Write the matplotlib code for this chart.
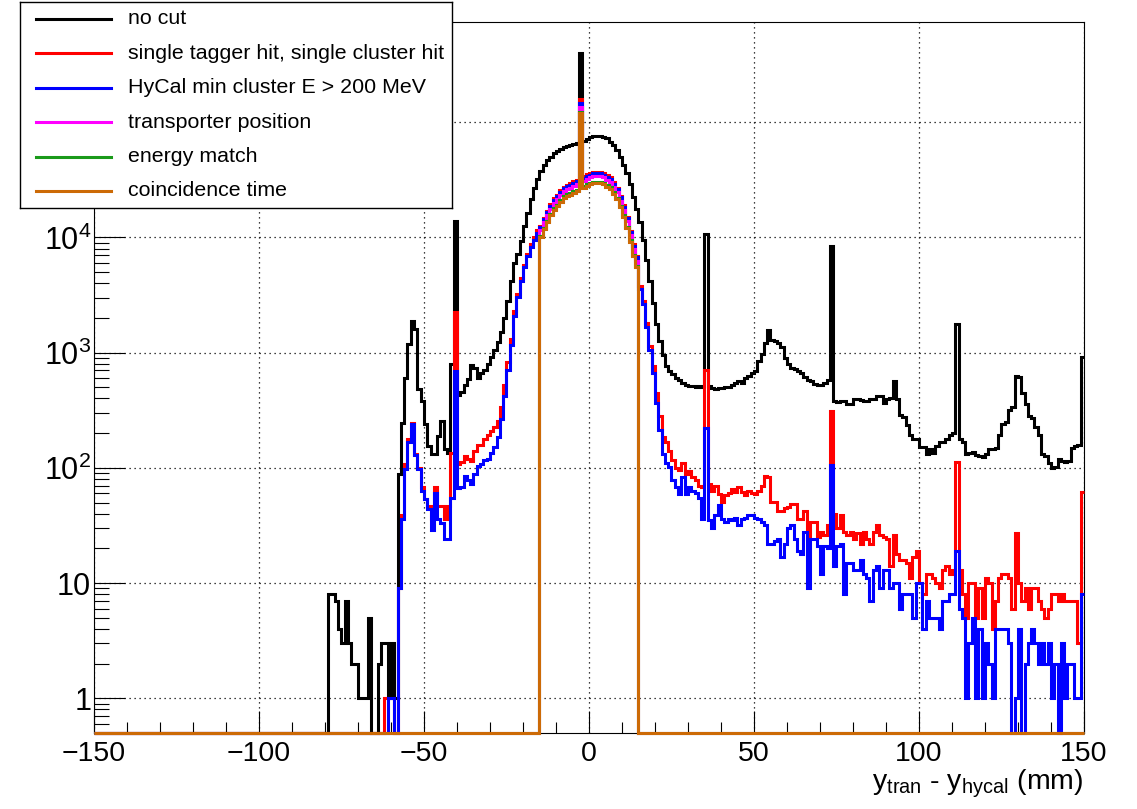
import numpy as np
import matplotlib
matplotlib.use('Agg')
import matplotlib.pyplot as plt
from matplotlib.ticker import MultipleLocator, FixedLocator, LogLocator, NullFormatter

plt.rcParams['font.family'] = ['Liberation Sans', 'DejaVu Sans']
plt.rcParams['mathtext.fontset'] = 'custom'
plt.rcParams['mathtext.rm'] = 'Liberation Sans'
plt.rcParams['mathtext.it'] = 'Liberation Sans'

# 1 mm bins from -150 to 150 mm
edges = np.arange(-150, 151, 1)

# bin contents, each list starts at the given lower bin edge (mm)
nocut_start = -79
nocut = [8, 8, 7, 4, 3, 7, 3, 2, 2, 1, 1, 1, 5, 0, 0, 2, 3, 3, 1, 3, 1,
         89, 246, 600, 1180, 1880, 1600, 480, 384, 240, 155,
         132, 132, 190, 257, 146, 135, 800, 13800,
         427, 457, 525, 590, 776, 741, 603, 661, 708, 794,
         912, 1047, 1230, 1510, 2000, 2820, 4170, 6030, 7240, 9330,
         12600, 16200, 21400, 26900, 32400,
         38000, 42700, 46800, 50100, 53700, 56200, 58900, 60300, 61700, 63100,
         64600, 66100, 398000, 69200, 70800, 74100, 75900, 75900, 75900, 74100,
         72400, 67600, 63100, 57500, 50100, 42700, 36300, 28800, 22400, 17800,
         13500, 9550, 6310, 4170, 2690, 1780, 1260, 955, 759, 692,
         646, 603, 575, 550, 525, 513, 513, 501, 513, 501,
         10700,
         513, 490, 479, 490, 490, 501, 501, 525, 550, 562,
         550, 603, 631, 661, 692, 851, 977, 1200, 1585, 1290,
         1260, 1200, 1120, 900, 794, 741, 724, 692, 661, 617,
         575, 562, 537, 525, 525, 550, 575,
         8500,
         380, 372, 380, 380, 355, 355, 398, 398, 389, 380,
         380, 398, 398, 417, 417, 363, 398, 407, 562, 398,
         288, 275, 234, 191, 178, 178, 151, 151, 132, 145,
         135, 155, 166, 166, 178, 191, 200, 1780, 178, 166,
         132, 135, 138, 129, 126, 123, 132, 145, 145, 148,
         191, 240, 251, 316, 339, 631, 617, 447, 355, 282,
         269, 224, 191, 132, 126, 110, 100, 102, 120, 115,
         112, 115, 148, 155, 158, 912]

single_start = -62
single = [1, 1, 1, 0,
          9, 39, 107, 178, 246, 132, 100, 68, 54, 47,
          36, 68, 47, 47, 36, 47, 135, 2240,
          107, 112, 126, 120, 115, 141, 159, 159, 178, 194,
          209, 228, 257, 339, 525, 832, 1320, 2290, 3240, 4470,
          5750, 7240, 8710, 10000, 11500,
          12600, 14700, 17000, 19500, 21800, 23400, 25600, 27500, 28700, 29400,
          30800, 31500, 158000, 33800, 35400, 36200, 37100, 37100, 37100, 36200,
          34500, 33100, 30200, 26900, 22900, 19000, 15000, 11400, 8700, 6900,
          3800, 2820, 1820, 1150, 759, 447, 282, 186, 166, 141,
          117, 100, 95, 110, 89, 93, 83, 78, 69, 68,
          708, 72, 63, 69, 59, 51, 58, 60, 65, 62,
          68, 62, 58, 63, 60, 59, 63, 69, 85, 83,
          51, 51, 42, 42, 45, 46, 49, 49, 36, 36,
          42, 24, 34, 34, 25, 28, 26, 32, 310, 40, 30,
          39, 28, 26, 28, 24, 27, 22, 28, 24, 22,
          28, 32, 26, 25, 24, 14, 26, 18, 16, 16,
          15, 11, 17, 19, 10, 8, 12, 12, 11, 10,
          9, 13, 14, 12, 13, 112, 13, 8, 5, 10,
          10, 5, 9, 5, 11, 10, 4, 7, 11, 12,
          12, 11, 6, 27, 10, 7, 9, 6, 9, 9,
          7, 6, 5, 6, 8, 8, 7, 8, 7, 7,
          7, 7, 3, 62]

minE_start = -61
minE = [1, 1, 0,
        9, 36, 97, 166, 240, 128, 97, 63, 54, 44,
        29, 61, 36, 33, 24, 24, 55, 690,
        67, 68, 85, 78, 72, 89, 103, 107, 117, 120,
        135, 152, 186, 263, 417, 708, 1170, 2090, 3020, 4170,
        5500, 6920, 8320, 9550, 11000,
        12300, 14300, 16500, 18900, 21200, 22700, 24900, 26700, 27900, 28500,
        29900, 30600, 148000, 32800, 34400, 35100, 36000, 36000, 36000, 35100,
        33500, 32100, 29300, 26100, 22200, 18400, 14600, 11100, 8400, 6700,
        3550, 2630, 1660, 1050, 660, 363, 214, 132, 110, 102,
        78, 68, 59, 83, 59, 68, 63, 60, 55, 36,
        222, 35, 30, 39, 48, 36, 34, 36, 35, 37,
        32, 36, 37, 39, 39, 37, 36, 34, 32, 22,
        22, 23, 24, 17, 22, 30, 32, 24, 19, 18,
        28, 9, 24, 24, 21, 12, 21, 20, 105, 14, 21,
        22, 8, 15, 15, 13, 13, 16, 12, 11, 7,
        13, 14, 9, 13, 13, 9, 10, 10, 6, 8,
        8, 8, 5, 10, 10, 4, 7, 5, 5, 5,
        4, 7, 7, 8, 8, 19, 6, 5, 1, 3,
        5, 1, 4, 1, 3, 2, 1, 4, 4, 4,
        4, 3, 0, 1, 4, 0, 2, 3, 4, 3,
        2, 3, 2, 3, 1, 2, 0, 3, 1, 2,
        2, 1, 1, 8]

central_start = -15
transporter = [11500, 13500, 15500, 17800, 20000, 21400, 23500, 25200, 26300, 26900,
               28200, 28900, 136000, 30900, 32400, 33100, 33900, 33900, 33900, 33100,
               31600, 30200, 27600, 24600, 20900, 17400, 13800, 10500, 7900, 6300]
energy = [10350, 12150, 14000, 16000, 18000, 19250, 21100, 22700, 23700, 24200,
          25400, 26000, 123000, 27800, 29200, 29800, 30500, 30500, 30500, 29800,
          28500, 27200, 24800, 22100, 18800, 15600, 12400, 9400, 7100, 5700]
coinc = [10000, 11750, 13500, 15500, 17400, 18600, 20400, 21900, 22900, 23400,
         24500, 25100, 120000, 26900, 28200, 28800, 29500, 29500, 29500, 28800,
         27500, 26300, 24000, 21400, 18200, 15100, 12000, 9100, 6900, 5500]

labels = ['no cut', 'single tagger hit, single cluster hit', 'HyCal min cluster E > 200 MeV',
          'transporter position', 'energy match', 'coincidence time']
colors = ['black', '#ff0000', '#0000ff', '#ff00ff', '#1a9a1a', '#cc6a06']


def to_hist(start, counts):
    h = np.zeros(len(edges) - 1)
    i = start + 150
    h[i:i + len(counts)] = counts
    return h


hists = [to_hist(nocut_start, nocut), to_hist(single_start, single), to_hist(minE_start, minE),
         to_hist(central_start, transporter), to_hist(central_start, energy),
         to_hist(central_start, coinc)]

W, H = 1137, 809
ymin, ymax = 0.5, 7.4e5

fig = plt.figure(figsize=(W / 100, H / 100), dpi=100)
ax = fig.add_axes([94 / W, 1 - 733 / H, 990 / W, 711 / H])
ax.set_yscale('log')

# empty bins sit on the bottom of the frame, like ROOT draws them
for h, c in zip(hists, colors):
    ax.stairs(np.maximum(h, ymin), edges, color=c, lw=2.2, baseline=None, clip_on=False, zorder=3)

ax.set_xlim(-150, 150)
ax.set_ylim(ymin, ymax)
ax.grid(True, which='major', color='black', lw=0.9, ls=(0, (1, 3)))
ax.set_axisbelow(True)

ax.xaxis.set_major_locator(MultipleLocator(50))
ax.xaxis.set_minor_locator(MultipleLocator(10))
ax.yaxis.set_major_locator(FixedLocator([1, 10, 100, 1e3, 1e4, 1e5]))
ax.set_yticklabels(['1', '10', r'$\mathregular{10^{2}}$', r'$\mathregular{10^{3}}$',
                    r'$\mathregular{10^{4}}$', r'$\mathregular{10^{5}}$'])
ax.yaxis.set_minor_locator(LogLocator(base=10, subs=np.arange(2, 10), numticks=30))
ax.yaxis.set_minor_formatter(NullFormatter())

ax.tick_params(axis='x', which='major', direction='in', length=15.8, width=0.8, labelsize=20.5, pad=6)
ax.tick_params(axis='x', which='minor', direction='in', length=7.9, width=0.8)
ax.tick_params(axis='y', which='major', direction='in', length=22, width=0.8, labelsize=22, pad=2)
ax.tick_params(axis='y', which='minor', direction='in', length=11, width=0.8)
for s in ax.spines.values():
    s.set_linewidth(0.8)

fig.text(1083 / W, 1 - 790 / H, r'$\mathregular{y_{tran}}$ - $\mathregular{y_{hycal}}$ (mm)',
         ha='right', va='baseline', fontsize=20.5)

# legend box, drawn like the ROOT TLegend
lax = fig.add_axes([20 / W, 1 - 208 / H, 432 / W, 206 / H])
lax.set_xlim(0, 432)
lax.set_ylim(206, 0)
lax.set_xticks([])
lax.set_yticks([])
for s in lax.spines.values():
    s.set_linewidth(1.0)
for i, (lab, c) in enumerate(zip(labels, colors)):
    yc = 17 + 34.4 * i
    lax.plot([16, 91], [yc, yc], color=c, lw=2.2)
    lax.text(108, yc, lab, fontsize=15.4, ha='left', va='center')

fig.savefig('out.png', dpi=100)
